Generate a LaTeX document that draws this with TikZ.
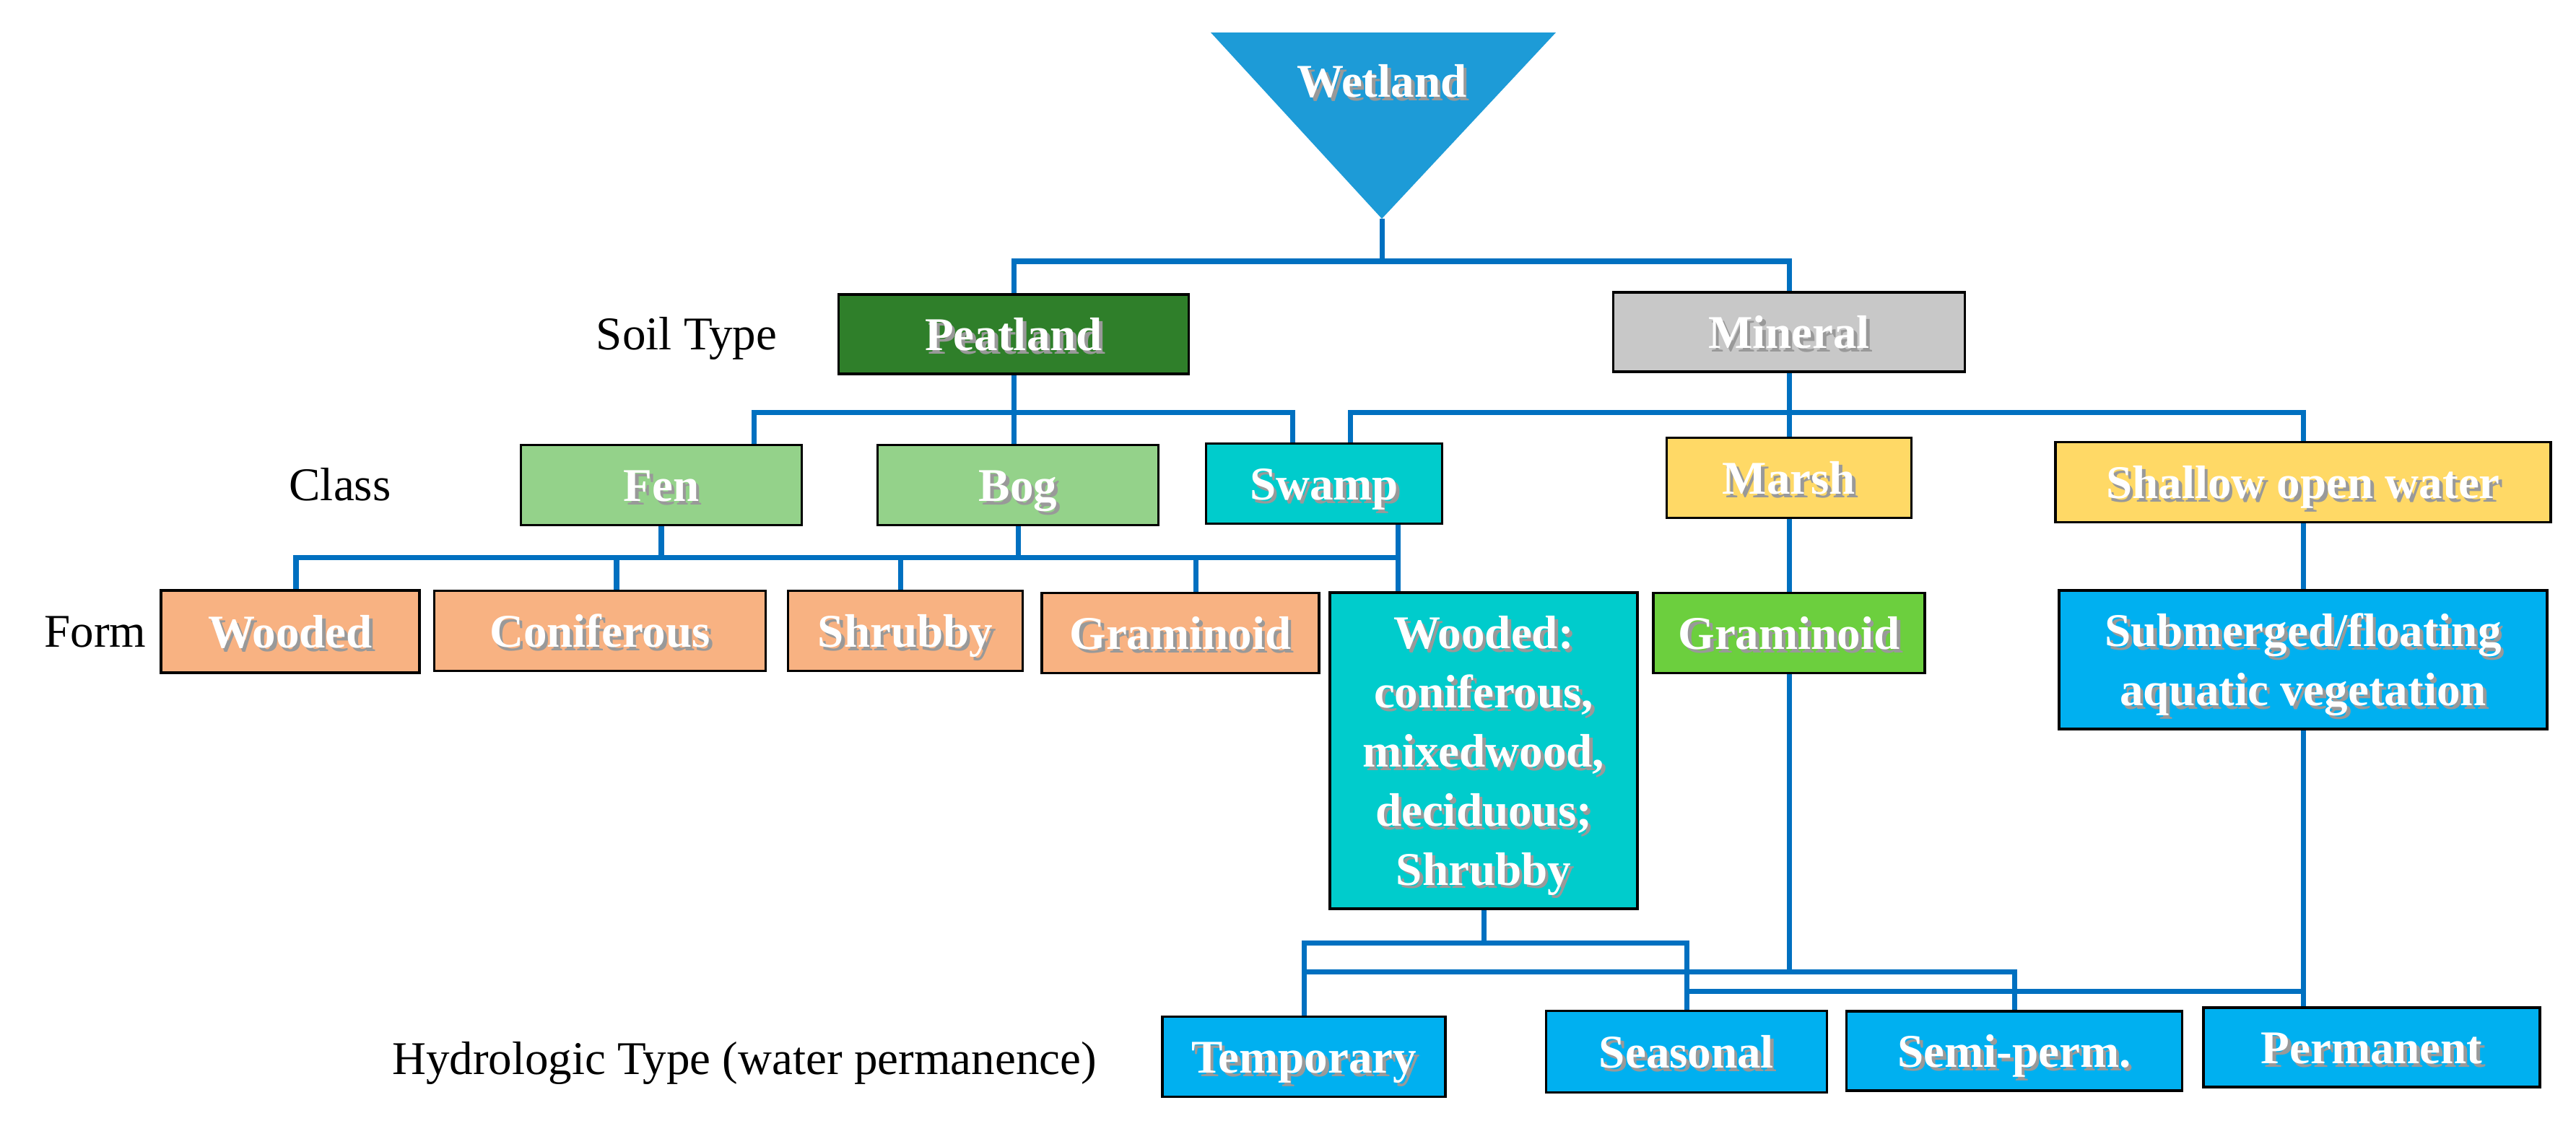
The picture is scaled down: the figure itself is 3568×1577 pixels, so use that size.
\documentclass[tikz,border=0pt]{standalone}
\usepackage{fontspec}
\setmainfont{Liberation Serif}
\usepackage{xcolor}
\usepackage{tikz}
\usetikzlibrary{positioning, calc}

\definecolor{wetblue}{RGB}{29,155,215}
\definecolor{linkblue}{RGB}{0,112,192}
\definecolor{peatgreen}{RGB}{47,127,42}
\definecolor{mingray}{RGB}{200,200,200}
\definecolor{classgreen}{RGB}{148,210,138}
\definecolor{swampteal}{RGB}{0,204,204}
\definecolor{marshyellow}{RGB}{255,217,102}
\definecolor{formorange}{RGB}{248,178,130}
\definecolor{gramgreen}{RGB}{108,207,62}
\definecolor{waterblue}{RGB}{0,176,240}

% white text with a soft drop shadow (depth ignored so descenders do not shift the line)
\newcommand{\shd}[1]{\raisebox{0pt}[\height][0pt]{\vphantom{Hd}\makebox[0pt][l]{\hspace{1.3pt}\raisebox{-1.3pt}{\textcolor{black!40}{#1}}}#1}}

\begin{document}
\begin{tikzpicture}[
    x=0.1mm, y=-0.1mm,
    box/.style={rectangle, draw=black, line width=1.1pt, text=white, inner sep=0pt,
                align=center, font=\fontsize{18.5}{23.3}\selectfont\bfseries},
    lbl/.style={font=\fontsize{18.5}{22}\selectfont, text=black},
    link/.style={draw=linkblue, line width=2pt},
]
\path[fill=white, use as bounding box] (0,0) rectangle (3568,1577);

% Top
\coordinate (apex) at (1914,303);
\fill[wetblue] (1677,45) -- (2155,45) -- (apex) -- cycle;
\node[box, draw=none] (wet) at (1914,112) {\shd{Wetland}};

% Soil type
\node[lbl] (soil) at (951,469) {Soil Type};
\node[box, fill=peatgreen, minimum width=48.5mm, minimum height=11mm] (peat) at (1404,463) {\shd{Peatland}};
\node[box, fill=mingray, minimum width=48.7mm, minimum height=11mm] (mineral) at (2478,460) {\shd{Mineral}};

% Class
\node[lbl] (class) at (471,671) {Class};
\node[box, fill=classgreen, minimum width=38.9mm, minimum height=11.1mm] (fen) at (916,672) {\shd{Fen}};
\node[box, fill=classgreen, minimum width=38.9mm, minimum height=11.1mm] (bog) at (1410,672) {\shd{Bog}};
\node[box, fill=swampteal, minimum width=32.7mm, minimum height=11.1mm] (swamp) at (1834,670) {\shd{Swamp}};
\node[box, fill=marshyellow, minimum width=33.9mm, minimum height=11.1mm] (marsh) at (2478,662) {\shd{Marsh}};
\node[box, fill=marshyellow, minimum width=68.6mm, minimum height=11.1mm] (shallow) at (3190,668) {\shd{Shallow open water}};

% Form
\node[lbl] (form) at (132,876) {Form};
\node[box, fill=formorange, minimum width=35.8mm, minimum height=11.4mm] (wooded) at (402,875) {\shd{Wooded}};
\node[box, fill=formorange, minimum width=45.9mm, minimum height=11.1mm] (conif) at (831,874) {\shd{Coniferous}};
\node[box, fill=formorange, minimum width=32.5mm, minimum height=11.1mm] (shrubby) at (1254,874) {\shd{Shrubby}};
\node[box, fill=formorange, minimum width=38.4mm, minimum height=11.1mm] (gram1) at (1635,877) {\shd{Graminoid}};
\node[box, fill=swampteal, minimum width=42.6mm, minimum height=43.8mm] (woodedsw) at (2055,1040)
    {\shd{Wooded:}\\\shd{coniferous,}\\\shd{mixedwood,}\\\shd{deciduous;}\\\shd{Shrubby}};
\node[box, fill=gramgreen, minimum width=37.6mm, minimum height=11.1mm] (gram2) at (2478,877) {\shd{Graminoid}};
\node[box, fill=waterblue, minimum width=67.6mm, minimum height=19.2mm] (submerged) at (3190,914)
    {\shd{Submerged/floating}\\\shd{aquatic vegetation}};

% Hydrologic type
\node[lbl] (hydro) at (1031,1473) {Hydrologic Type (water permanence)};
\node[box, fill=waterblue, minimum width=39.2mm, minimum height=11.1mm] (temp) at (1806,1464) {\shd{Temporary}};
\node[box, fill=waterblue, minimum width=38.9mm, minimum height=11.3mm] (seasonal) at (2336,1457) {\shd{Seasonal}};
\node[box, fill=waterblue, minimum width=46.5mm, minimum height=11mm] (semi) at (2790,1456) {\shd{Semi-perm.}};
\node[box, fill=waterblue, minimum width=46.6mm, minimum height=11mm] (perm) at (3285,1451) {\shd{Permanent}};

% Links: wetland
\draw[link] (apex) -- ++(0,59) coordinate (wb) -| (peat.north);
\draw[link] (wb) -| (mineral.north);

% Links: soil type to class
\draw[link] (peat.south) -- ++(0,52) coordinate (pb) -| ($(fen.north)+(128,0)$);
\draw[link] (pb) -| ($(swamp.north)+(-44,0)$);
\draw[link] (peat.south) -- (peat.south |- bog.north);
\draw[link] (mineral.south) -- (marsh.north);
\draw[link] (mineral.south) -- ++(0,55) coordinate (mb) -| ($(swamp.north)+(36,0)$);
\draw[link] (mb) -| (shallow.north);

% Links: class to form
\coordinate (fb) at ($(fen.south)+(0,43)$);
\draw[link] (fen.south) -- (fb) -| ($(wooded.north)+(8,0)$);
\draw[link] (fb) -| ($(conif.north)+(23,0)$);
\draw[link] (fb) -| ($(shrubby.north)+(-7,0)$);
\draw[link] (fb) -| ($(gram1.north)+(21,0)$);
\draw[link] (fb) -| ($(woodedsw.north)+(-119,0)$);
\draw[link] (bog.south) -- (bog.south |- fb);
\draw[link] ($(swamp.south)+(102,0)$) -- ($(woodedsw.north)+(-119,0)$);
\draw[link] (marsh.south) -- (gram2.north);
\draw[link] (shallow.south) -- (submerged.north);

% Links: form to hydrologic type
\draw[link] (woodedsw.south) -- ++(0,46) coordinate (hb1) -| (temp.north);
\draw[link] (hb1) -| (seasonal.north);
\draw[link] (gram2.south) -- ++(0,412) coordinate (hb2) -| (temp.north);
\draw[link] (hb2) -| (semi.north);
\draw[link] (submerged.south) -- (submerged.south |- perm.north);
\draw[link] ($(submerged.south)+(0,362)$) -| (seasonal.north);
\end{tikzpicture}
\end{document}
